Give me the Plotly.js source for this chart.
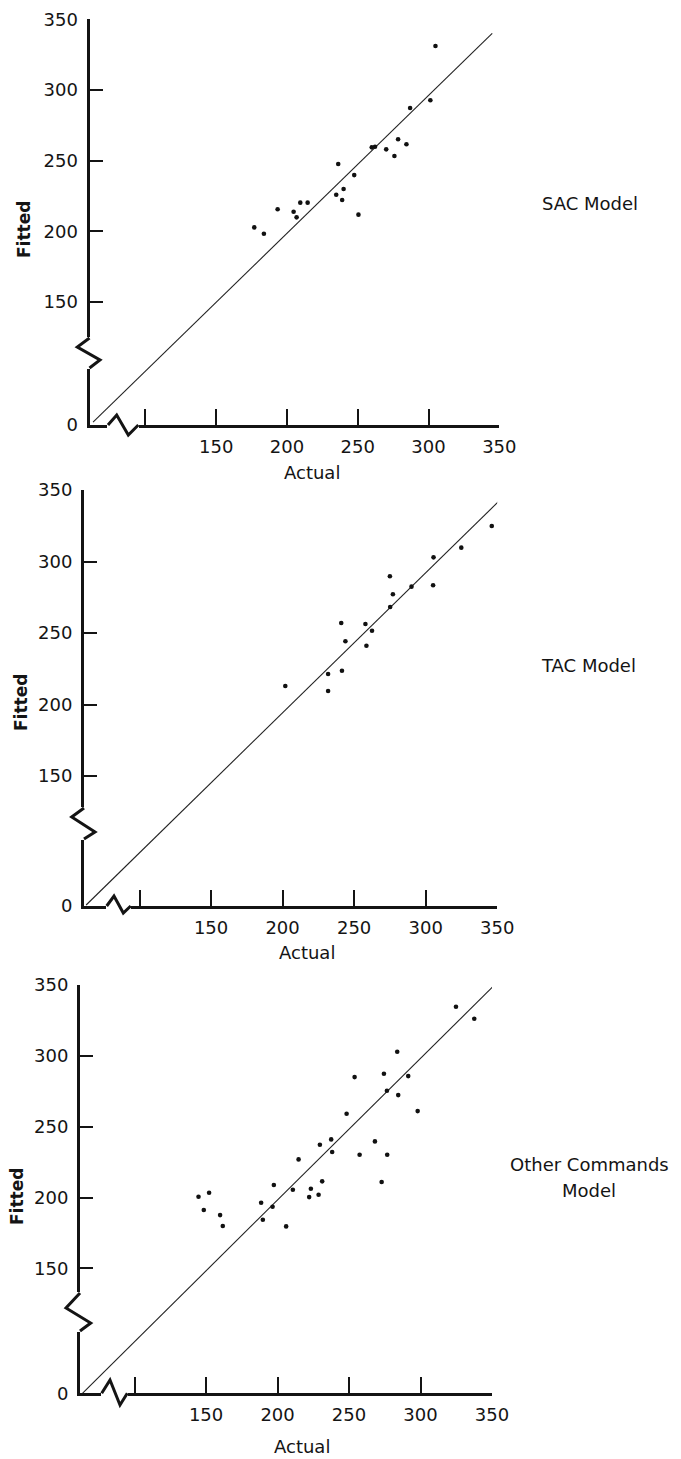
<!DOCTYPE html>
<html>
<head>
<meta charset="utf-8">
<script src="https://cdn.plot.ly/plotly-3.0.1.min.js"></script>
<style>html,body{margin:0;padding:0;background:#fff;}#chart{width:681px;height:1459px;}</style>
</head>
<body>
<div id="chart"></div>
<script>
// ---- data ----
const sacActual = [176.9, 183.7, 193.4, 204.7, 206.8, 209.4, 214.6, 234.8, 236.2, 239.0, 240.0, 247.5, 250.5, 259.9, 262.2, 270.1, 275.9, 278.5, 284.4, 287.0, 301.3, 304.9];
const sacFitted = [202.8, 198.3, 215.6, 213.9, 209.9, 220.3, 220.3, 225.9, 247.6, 222.2, 229.9, 239.8, 211.8, 259.4, 259.8, 258.0, 253.3, 265.1, 261.6, 287.3, 292.7, 331.1];
const sacLineX = [63, 345];
const sacLineY = [65, 340];

const tacActual = [201.9, 231.8, 231.8, 241.5, 241.0, 243.9, 257.9, 258.6, 262.5, 275.2, 275.0, 277.1, 290.1, 305.5, 305.2, 324.9, 346.2];
const tacFitted = [212.9, 221.3, 209.4, 223.6, 257.0, 244.2, 256.3, 241.1, 251.6, 268.2, 289.7, 277.1, 282.4, 302.9, 283.4, 309.7, 324.8];
const tacLineX = [62.7, 351];
const tacLineY = [59.8, 342];

const othActual = [144.7, 152.1, 148.4, 159.8, 161.7, 188.5, 189.7, 196.5, 197.4, 206.0, 210.7, 214.7, 222.1, 223.3, 228.7, 231.2, 229.6, 237.5, 238.2, 248.3, 253.9, 257.4, 268.1, 272.8, 274.4, 276.5, 276.7, 283.7, 284.4, 291.4, 298.0, 324.8, 337.6];
const othFitted = [200.5, 203.4, 191.2, 187.6, 179.9, 196.3, 184.3, 193.5, 208.8, 179.6, 205.5, 226.9, 200.3, 206.2, 202.0, 211.4, 237.2, 241.0, 232.1, 259.1, 285.0, 230.2, 239.6, 210.9, 287.4, 275.4, 230.2, 302.9, 272.3, 285.7, 261.0, 334.7, 326.2];
const othLineX = [63.5, 350.6];
const othLineY = [61.8, 348.8];

const xTickVals = [100, 150, 200, 250, 300, 350];
const xTickText = ["", "150", "200", "250", "300", "350"];
const yTickText = ["0", "150", "200", "250", "300", "350"];
const panelNames = [["SAC Model"], ["TAC Model"], ["Other Commands", "Model"]];
const xTitle = "Actual";
const yTitle = "Fitted";

// ---- layout geometry (pixels) ----
const W = 681, H = 1459;
const fx = p => p / W;
const fy = p => 1 - p / H;
const FONT = "DejaVu Sans";
const INK = "#141414";

const panels = [
  {left: 89.5, right: 499.3, top: 19.3, bottom: 425, x0: 60.5, y0: 63,
   yz: [[89.5,338],[77.3,347],[100,360],[89.5,368]], yzCover:[337,369],
   xz: [[108,425],[116.7,415],[128.3,435],[138.3,425]], xzCover:[107,139],
   label:{x:590, y:[204]}, actual:{x:312, y:472}, fitted:{x:24, y:230}},
  {left: 84, right: 497.2, top: 490, bottom: 906, x0: 61.2, y0: 59.1,
   yz: [[84,808],[71.7,817],[95,832],[84,839]], yzCover:[807,840],
   xz: [[106.7,906],[114,896],[123.3,913],[130.7,906]], xzCover:[106,131],
   label:{x:588, y:[665]}, actual:{x:307, y:953}, fitted:{x:21, y:703}},
  {left: 80, right: 492, top: 985, bottom: 1393.3, x0: 61.8, y0: 61.8,
   yz: [[80,1293],[66,1308],[90.7,1323],[80,1331]], yzCover:[1292,1332],
   xz: [[101.7,1393.3],[110,1380],[120,1405],[127.3,1393.3]], xzCover:[101,128],
   label:{x:589, y:[1164, 1190]}, actual:{x:302, y:1446}, fitted:{x:17, y:1197}}
];

const series = [
  {ax: sacActual, fy: sacFitted, lx: sacLineX, ly: sacLineY},
  {ax: tacActual, fy: tacFitted, lx: tacLineX, ly: tacLineY},
  {ax: othActual, fy: othFitted, lx: othLineX, ly: othLineY}
];

const traces = [];
const layout = {
  width: W, height: H,
  margin: {l: 0, r: 0, t: 0, b: 0},
  paper_bgcolor: "#ffffff", plot_bgcolor: "rgba(0,0,0,0)",
  showlegend: false,
  font: {family: FONT, color: INK},
  shapes: [], annotations: []
};

panels.forEach((p, i) => {
  const sfx = i === 0 ? "" : String(i + 1);
  const xa = "x" + sfx, ya = "y" + sfx;
  const s = series[i];
  traces.push({
    type: "scatter", mode: "lines", x: s.lx, y: s.ly, xaxis: xa, yaxis: ya,
    line: {color: "#222", width: 1.1}, hoverinfo: "skip"
  });
  traces.push({
    type: "scatter", mode: "markers", x: s.ax, y: s.fy, xaxis: xa, yaxis: ya,
    marker: {color: "#111", size: 4.6}
  });
  const common = {
    showline: true, linewidth: 3, linecolor: INK, mirror: false,
    ticks: "inside", tickwidth: 2, tickcolor: INK,
    showgrid: false, zeroline: false, fixedrange: true,
    tickfont: {family: FONT, size: 18, color: INK}
  };
  layout["xaxis" + sfx] = Object.assign({}, common, {
    domain: [fx(p.left), fx(p.right)], anchor: ya,
    range: [p.x0, 350], tickmode: "array", tickvals: xTickVals, ticktext: xTickText,
    ticklen: 16, ticklabelstandoff: 3
  });
  layout["yaxis" + sfx] = Object.assign({}, common, {
    domain: [fy(p.bottom), fy(p.top)], anchor: xa,
    range: [p.y0, 350], tickmode: "array",
    tickvals: [p.y0, 150, 200, 250, 300, 350], ticktext: yTickText,
    ticklen: 13, ticklabelstandoff: 5
  });
  // axis breaks
  layout.shapes.push({type: "rect", xref: "paper", yref: "paper", layer: "above",
    x0: fx(p.left - 6), x1: fx(p.left + 6), y0: fy(p.yzCover[1]), y1: fy(p.yzCover[0]),
    fillcolor: "#ffffff", line: {width: 0}});
  layout.shapes.push({type: "rect", xref: "paper", yref: "paper", layer: "above",
    x0: fx(p.xzCover[0]), x1: fx(p.xzCover[1]), y0: fy(p.bottom + 6), y1: fy(p.bottom - 6),
    fillcolor: "#ffffff", line: {width: 0}});
  const toPath = pts => pts.map((q, k) => (k ? "L" : "M") + fx(q[0]).toFixed(5) + "," + fy(q[1]).toFixed(5)).join(" ");
  layout.shapes.push({type: "path", xref: "paper", yref: "paper", layer: "above",
    path: toPath(p.yz), line: {color: INK, width: 3}});
  layout.shapes.push({type: "path", xref: "paper", yref: "paper", layer: "above",
    path: toPath(p.xz), line: {color: INK, width: 3}});
  // texts
  layout.annotations.push({xref: "paper", yref: "paper", x: fx(p.fitted.x), y: fy(p.fitted.y),
    text: yTitle, textangle: -90, showarrow: false, xanchor: "center", yanchor: "middle",
    font: {family: FONT, size: 17, color: INK, weight: "bold"}});
  layout.annotations.push({xref: "paper", yref: "paper", x: fx(p.actual.x), y: fy(p.actual.y),
    text: xTitle, showarrow: false, xanchor: "center", yanchor: "middle",
    font: {family: FONT, size: 18, color: INK}});
  panelNames[i].forEach((t, k) => {
    layout.annotations.push({xref: "paper", yref: "paper", x: fx(p.label.x), y: fy(p.label.y[k]),
      text: t, showarrow: false, xanchor: "center", yanchor: "middle",
      font: {family: FONT, size: 18, color: INK}});
  });
});

Plotly.newPlot("chart", traces, layout, {staticPlot: true, displayModeBar: false});
</script>
</body>
</html>
